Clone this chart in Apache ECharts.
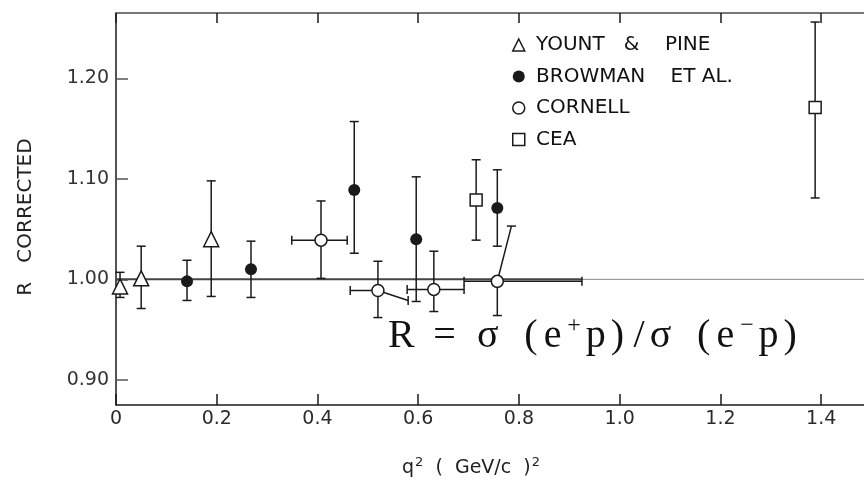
<!DOCTYPE html>
<html>
<head>
<meta charset="utf-8">
<script src="https://cdn.jsdelivr.net/npm/echarts@6/dist/echarts.min.js"></script>
<style>html,body{margin:0;padding:0;background:#fff;}#c{width:864px;height:495px;}</style>
</head>
<body>
<div id="c"></div>
<script>
// ---- data ----
const xTicks = [0, 0.2, 0.4, 0.6, 0.8, 1.0, 1.2, 1.4];
const yTicks = [0.9, 1.0, 1.1, 1.2];
const xTickLabels = ['0', '0.2', '0.4', '0.6', '0.8', '1.0', '1.2', '1.4'];
const yTickLabels = ['0.90', '1.00', '1.10', '1.20'];

const seriesNames = [' YOUNT   &    PINE', ' BROWMAN    ET AL.', ' CORNELL', ' CEA'];

const yountX  = [0.008, 0.050, 0.189];
const yountY  = [0.993, 1.001, 1.040];
const yountLo = [0.982, 0.971, 0.983];
const yountHi = [1.007, 1.033, 1.098];

const browmanX  = [0.141, 0.268, 0.473, 0.596, 0.757];
const browmanY  = [0.998, 1.010, 1.089, 1.040, 1.071];
const browmanLo = [0.979, 0.982, 1.026, 0.978, 1.033];
const browmanHi = [1.019, 1.038, 1.157, 1.102, 1.109];

const cornellX     = [0.407, 0.520, 0.631, 0.757];
const cornellY     = [1.039, 0.989, 0.990, 0.998];
const cornellLo    = [1.001, 0.962, 0.968, 0.964];
const cornellHi    = [1.078, 1.018, 1.028, 1.053];
const cornellHiAt  = [0.407, 0.520, 0.631, 0.785];  // x where the upper whisker ends (drawn slanted)
const cornellXLo   = [0.349, 0.465, 0.578, 0.691];
const cornellXHi   = [0.459, 0.580, 0.691, 0.925];
const cornellXHiAt = [1.039, 0.979, 0.990, 0.998];  // y where the right whisker ends

const ceaX  = [0.715, 1.388];
const ceaY  = [1.079, 1.171];
const ceaLo = [1.039, 1.081];
const ceaHi = [1.119, 1.256];

const refDark  = [[0, 1.0], [0.925, 1.0]];
const refLight = [[0.925, 1.0], [1.485, 1.0]];

const xMin = 0, xMax = 1.485, yMin = 0.875, yMax = 1.265;

// formula characters (u = superscript)
const formulaChars = ['R',' ','=',' ','σ',' ','(','e','+','p',')','/','σ',' ','(','e','−','p',')'];
const formulaSup   = [8, 16];

// ---- helpers ----
const INK = '#1a1a1a';
const CAP = 4.5;
function zip(a, b) { return a.map((v, i) => [v, b[i]]); }
// vertical bars: [x, y, lo, hi, xTop]
function vData(x, y, lo, hi, top) { return x.map((v, i) => [v, y[i], lo[i], hi[i], top ? top[i] : v]); }
// horizontal bars: [x, y, xlo, xhi, yRight]
function hData(x, y, lo, hi, right) { return x.map((v, i) => [v, y[i], lo[i], hi[i], right ? right[i] : y[i]]); }

function vErr(params, api) {
  const x = api.value(0), y = api.value(1), lo = api.value(2), hi = api.value(3), xt = api.value(4);
  const c = api.coord([x, y]), top = api.coord([xt, hi]), bot = api.coord([x, lo]);
  const st = { stroke: INK, lineWidth: 1.5 };
  return { type: 'group', children: [
    { type: 'polyline', shape: { points: [top, c, bot] }, style: { stroke: INK, lineWidth: 1.5, fill: null } },
    { type: 'line', shape: { x1: top[0] - CAP, y1: top[1], x2: top[0] + CAP, y2: top[1] }, style: st },
    { type: 'line', shape: { x1: bot[0] - CAP, y1: bot[1], x2: bot[0] + CAP, y2: bot[1] }, style: st }
  ]};
}
function hErr(params, api) {
  const x = api.value(0), y = api.value(1), lo = api.value(2), hi = api.value(3), yr = api.value(4);
  const c = api.coord([x, y]), a = api.coord([lo, y]), b = api.coord([hi, yr]);
  const st = { stroke: INK, lineWidth: 1.5 };
  return { type: 'group', children: [
    { type: 'polyline', shape: { points: [a, c, b] }, style: { stroke: INK, lineWidth: 1.5, fill: null } },
    { type: 'line', shape: { x1: a[0], y1: a[1] - CAP, x2: a[0], y2: a[1] + CAP }, style: st },
    { type: 'line', shape: { x1: b[0], y1: b[1] - CAP, x2: b[0], y2: b[1] + CAP }, style: st }
  ]};
}

const FONT = 'DejaVu Sans';
const formulaText = formulaChars.map((ch, i) => '{' + (formulaSup.indexOf(i) >= 0 ? 'u' : 'c') + '|' + ch + '}').join('');

const chart = echarts.init(document.getElementById('c'), null, { renderer: 'canvas' });

const option = {
  backgroundColor: '#fff',
  animation: false,
  grid: { left: 116, right: 0, top: 13, bottom: 90, containLabel: false },
  xAxis: [{
    type: 'value', min: xMin, max: xMax, position: 'bottom',
    axisLine: { show: true, onZero: false, lineStyle: { color: INK, width: 1.5 } },
    axisTick: { show: true, inside: true, length: 11, customValues: xTicks, lineStyle: { color: INK, width: 1.5 } },
    axisLabel: { show: true, customValues: xTicks, margin: 5, fontFamily: FONT, fontSize: 19, color: '#2a2a2a',
      formatter: v => { const i = xTicks.findIndex(t => Math.abs(t - v) < 1e-6); return i >= 0 ? xTickLabels[i] : ''; } },
    splitLine: { show: false }
  }, {
    type: 'value', min: xMin, max: xMax, position: 'top',
    axisLine: { show: true, onZero: false, lineStyle: { color: '#777', width: 2 } },
    axisTick: { show: true, inside: true, length: 10, customValues: xTicks, lineStyle: { color: INK, width: 1.5 } },
    axisLabel: { show: false }, splitLine: { show: false }
  }],
  yAxis: [{
    type: 'value', min: yMin, max: yMax,
    axisLine: { show: true, onZero: false, lineStyle: { color: INK, width: 1.5 } },
    axisTick: { show: true, inside: true, length: 12, customValues: yTicks, lineStyle: { color: '#555', width: 1.5 } },
    axisLabel: { show: true, customValues: yTicks, margin: 7, fontFamily: FONT, fontSize: 19, color: '#333',
      formatter: v => { const i = yTicks.findIndex(t => Math.abs(t - v) < 1e-6); return i >= 0 ? yTickLabels[i] : ''; } },
    splitLine: { show: false }
  }],
  legend: {
    orient: 'vertical', left: 512, top: 35, padding: 0, itemGap: 11.5, itemWidth: 12, itemHeight: 12,
    textStyle: { fontFamily: FONT, fontSize: 20, color: '#111', lineHeight: 20 },
    data: [
      { name: seriesNames[0], icon: 'triangle', itemStyle: { color: '#fff', borderColor: INK, borderWidth: 1.5 } },
      { name: seriesNames[1], icon: 'circle', itemStyle: { color: INK, borderColor: INK, borderWidth: 0 } },
      { name: seriesNames[2], icon: 'circle', itemStyle: { color: '#fff', borderColor: INK, borderWidth: 1.5 } },
      { name: seriesNames[3], icon: 'rect', itemStyle: { color: '#fff', borderColor: INK, borderWidth: 1.5 } }
    ]
  },
  graphic: [{
    type: 'text', left: 388, top: 314, z: 100,
    style: {
      text: formulaText,
      rich: {
        c: { fontFamily: 'Liberation Serif', fontSize: 40, fill: '#111', width: 21.6, align: 'center' },
        u: { fontFamily: 'Liberation Serif', fontSize: 24, fill: '#111', width: 21.6, align: 'center', padding: [0, 0, 20, 0] }
      }
    }
  }, {
    type: 'text', x: 26, y: 217, rotation: Math.PI / 2, z: 100,
    style: { text: 'R   CORRECTED', fontFamily: FONT, fontSize: 20, fill: '#222', align: 'center', verticalAlign: 'middle' }
  }, {
    type: 'text', left: 402, top: 456, z: 100,
    style: {
      text: '{t|q}{s|2}{t|  (  GeV/c  )}{s|2}',
      rich: {
        t: { fontFamily: FONT, fontSize: 19, fill: '#222' },
        s: { fontFamily: FONT, fontSize: 13, fill: '#222', padding: [0, 0, 11, 1] }
      }
    }
  }],
  series: [
    { type: 'line', data: refDark, symbol: 'none', silent: true, z: 1,
      lineStyle: { color: '#444', width: 2 } },
    { type: 'line', data: refLight, symbol: 'none', silent: true, z: 1,
      lineStyle: { color: '#888', width: 1 } },
    { type: 'custom', renderItem: vErr, data: vData(yountX, yountY, yountLo, yountHi), z: 2, silent: true },
    { type: 'custom', renderItem: vErr, data: vData(browmanX, browmanY, browmanLo, browmanHi), z: 2, silent: true },
    { type: 'custom', renderItem: vErr, data: vData(cornellX, cornellY, cornellLo, cornellHi, cornellHiAt), z: 2, silent: true },
    { type: 'custom', renderItem: hErr, data: hData(cornellX, cornellY, cornellXLo, cornellXHi, cornellXHiAt), z: 2, silent: true },
    { type: 'custom', renderItem: vErr, data: vData(ceaX, ceaY, ceaLo, ceaHi), z: 2, silent: true },
    { name: seriesNames[0], type: 'scatter', data: zip(yountX, yountY), symbol: 'triangle', symbolSize: 15, z: 5,
      itemStyle: { color: '#fff', borderColor: INK, borderWidth: 1.5, opacity: 1 } },
    { name: seriesNames[1], type: 'scatter', data: zip(browmanX, browmanY), symbol: 'circle', symbolSize: 12, z: 5,
      itemStyle: { color: INK, borderColor: INK, borderWidth: 0, opacity: 1 } },
    { name: seriesNames[2], type: 'scatter', data: zip(cornellX, cornellY), symbol: 'circle', symbolSize: 12, z: 5,
      itemStyle: { color: '#fff', borderColor: INK, borderWidth: 1.5, opacity: 1 } },
    { name: seriesNames[3], type: 'scatter', data: zip(ceaX, ceaY), symbol: 'rect', symbolSize: 12, z: 5,
      itemStyle: { color: '#fff', borderColor: INK, borderWidth: 1.5, opacity: 1 } }
  ]
};
chart.setOption(option);
</script>
</body>
</html>
